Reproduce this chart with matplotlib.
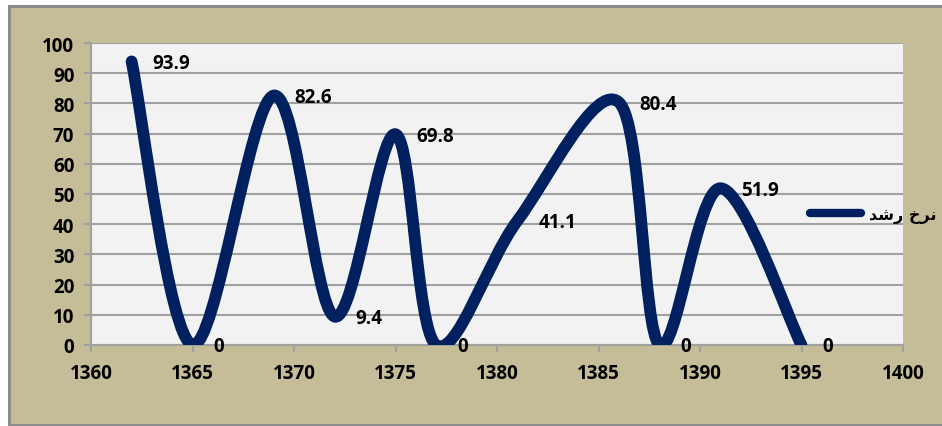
import matplotlib
matplotlib.use('Agg')
import matplotlib.pyplot as plt
from matplotlib.path import Path
from matplotlib.patches import PathPatch, Rectangle
from matplotlib.lines import Line2D

# 데이터
years = [1362, 1365, 1369, 1372, 1375, 1377, 1381, 1386, 1388, 1391, 1395]
rates = [93.9, 0, 82.6, 9.4, 69.8, 0, 41.1, 80.4, 0, 51.9, 0]
rate_labels = ['93.9', '0', '82.6', '9.4', '69.8', '0', '41.1', '80.4', '0', '51.9', '0']
x_ticks = [1360, 1365, 1370, 1375, 1380, 1385, 1390, 1395, 1400]
y_ticks = [0, 10, 20, 30, 40, 50, 60, 70, 80, 90, 100]
series_name = 'نرخ رشد'

navy = '#002060'
tan = '#C4BD97'
font = 'Open Sans'


# 엑셀식 부드러운 선 (Catmull-Rom -> 베지어 제어점)
def smooth_path(xs, ys):
    pts = list(zip(xs, ys))
    n = len(pts)
    verts = [pts[0]]
    codes = [Path.MOVETO]
    for i in range(n - 1):
        p0 = pts[i - 1] if i > 0 else pts[i]
        p1 = pts[i]
        p2 = pts[i + 1]
        p3 = pts[i + 2] if i + 2 < n else pts[i + 1]
        c1 = (p1[0] + (p2[0] - p0[0]) / 6, p1[1] + (p2[1] - p0[1]) / 6)
        c2 = (p2[0] - (p3[0] - p1[0]) / 6, p2[1] - (p3[1] - p1[1]) / 6)
        verts += [c1, c2, p2]
        codes += [Path.CURVE4] * 3
    return Path(verts, codes)


# 아랍 문자 표시형(모양 연결)을 눈에 보이는 순서로 변환
def shape_persian(text):
    forms = {
        'ن': {'init': '\uFEE7', 'iso': '\uFEE5', 'fin': '\uFEE6', 'med': '\uFEE8'},
        'ش': {'init': '\uFEB7', 'iso': '\uFEB5', 'fin': '\uFEB6', 'med': '\uFEB8'},
        'خ': {'init': '\uFEA7', 'iso': '\uFEA5', 'fin': '\uFEA6', 'med': '\uFEA8'},
        'ر': {'iso': '\uFEAD', 'fin': '\uFEAE'},
        'د': {'iso': '\uFEA9', 'fin': '\uFEAA'},
    }
    out = []
    for word in text.split(' '):
        shaped = []
        for i, ch in enumerate(word):
            prev_joins = i > 0 and 'init' in forms.get(word[i - 1], {})
            next_ok = i < len(word) - 1 and 'init' in forms.get(ch, {})
            f = forms.get(ch)
            if f is None:
                shaped.append(ch)
            elif prev_joins and next_ok:
                shaped.append(f['med'])
            elif prev_joins:
                shaped.append(f['fin'])
            elif next_ok:
                shaped.append(f['init'])
            else:
                shaped.append(f['iso'])
        out.append(''.join(shaped))
    return ' '.join(out)[::-1]


fig = plt.figure(figsize=(9.42, 4.27), dpi=100, facecolor='white')
fig.patches.append(Rectangle((8.5 / 942, 1.5 / 427), 1.2, 419 / 427, transform=fig.transFigure,
                             facecolor=tan, edgecolor='#8C8C8C', linewidth=2.2, zorder=-5))

ax = fig.add_axes([91 / 942, 1 - 346 / 427, (903 - 91) / 942, (346 - 44) / 427])
ax.set_zorder(2)
ax.set_facecolor('#F2F2F2')
ax.set_xlim(1360, 1400)
ax.set_ylim(0, 100)
ax.set_xticks(x_ticks)
ax.set_yticks(y_ticks)
for s in ['top', 'right']:
    ax.spines[s].set_visible(False)
for s in ['left', 'bottom']:
    ax.spines[s].set_color('#A0A0A0')
    ax.spines[s].set_linewidth(1.5)
ax.grid(axis='y', color='#A0A0A0', linewidth=1.5)
ax.set_axisbelow(True)
ax.tick_params(axis='both', length=5, width=1.5, color='#A0A0A0', labelsize=13.5, pad=7)
ax.tick_params(axis='x', pad=8)
for lab in ax.get_xticklabels() + ax.get_yticklabels():
    lab.set_fontfamily(font)
    lab.set_fontweight('bold')

ax.add_patch(PathPatch(smooth_path(years, rates), facecolor='none', edgecolor=navy,
                       linewidth=8.5, capstyle='round', joinstyle='round', zorder=3))

for x, y, t in zip(years, rates, rate_labels):
    ax.annotate(t, (x, y), xytext=(15, -1), textcoords='offset points', ha='left', va='center',
                fontsize=13.5, fontweight='bold', fontfamily=font, annotation_clip=False, zorder=4)

handle = Line2D([], [], color=navy, linewidth=6, solid_capstyle='round')
leg = fig.legend([handle], [shape_persian(series_name)], loc='center left',
                 bbox_to_anchor=(802 / 942, 1 - 216 / 427), frameon=False, borderpad=0,
                 handlelength=3.2, handletextpad=0.5,
                 prop={'family': ['DejaVu Sans'], 'size': 11.5, 'weight': 'bold'})
leg.set_zorder(10)

fig.savefig('out.png', dpi=100, facecolor='white')
